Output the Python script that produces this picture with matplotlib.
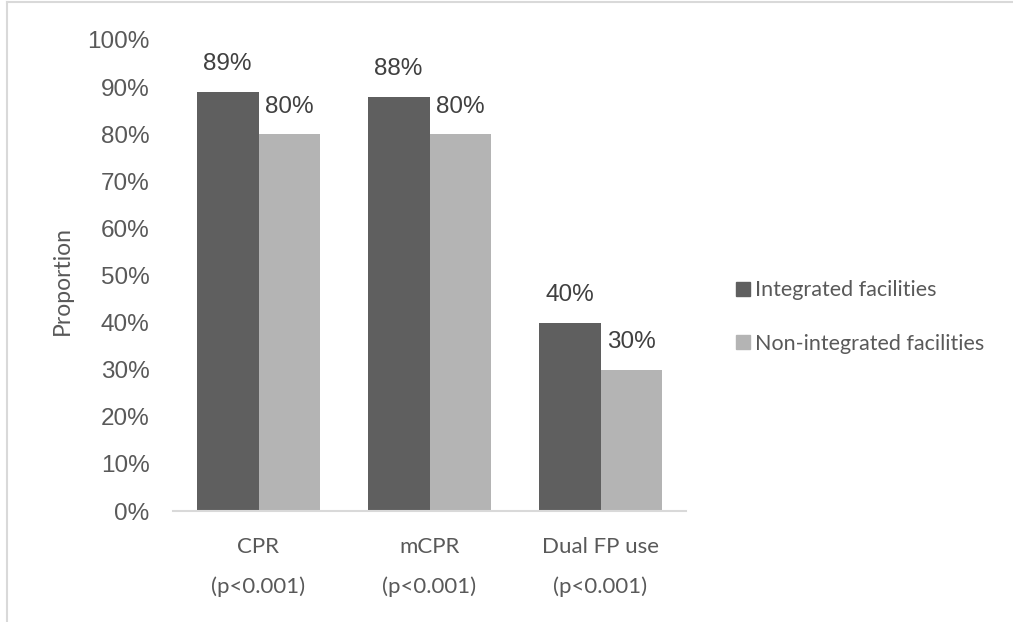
import matplotlib
matplotlib.use("Agg")
import matplotlib.pyplot as plt
from matplotlib.lines import Line2D
from matplotlib.patches import Patch
import numpy as np

categories = ["CPR\n(p<0.001)", "mCPR\n(p<0.001)", "Dual FP use\n(p<0.001)"]
series_names = ["Integrated facilities", "Non-integrated facilities"]
integrated = [0.89, 0.88, 0.40]
non_integrated = [0.80, 0.80, 0.30]
y_ticks = [0.0, 0.1, 0.2, 0.3, 0.4, 0.5, 0.6, 0.7, 0.8, 0.9, 1.0]

dark = "#5f5f5f"
light = "#b4b4b4"
text_col = "#595959"
line_col = "#d9d9d9"
num_font = "Liberation Sans"
lbl_font = "Lato"

W, H = 1013, 622
fig = plt.figure(figsize=(W / 100, H / 100), dpi=100)
ax = fig.add_axes([173 / W, 111 / H, 513 / W, 471 / H])

x = np.arange(len(categories))
bw = 0.3625
b1 = ax.bar(x - bw / 2, integrated, bw, color=dark, label=series_names[0])
b2 = ax.bar(x + bw / 2, non_integrated, bw, color=light, label=series_names[1])

for bars, vals in ((b1, integrated), (b2, non_integrated)):
    for r, v in zip(bars, vals):
        ax.annotate(f"{v:.0%}", (r.get_x() + r.get_width() / 2, v),
                    xytext=(0, 12), textcoords="offset points",
                    ha="center", va="bottom", fontsize=17.5,
                    family=num_font, color="#404040")

ax.set_xlim(-0.5, 2.5)
ax.set_ylim(0, 1)
ax.set_yticks(y_ticks)
ax.set_yticklabels([f"{t:.0%}" for t in y_ticks], family=num_font,
                   fontsize=17.5, color=text_col)
ax.set_xticks(x)
ax.set_xticklabels(categories, family=lbl_font, fontsize=16,
                   color=text_col, linespacing=2.15)
ax.tick_params(axis="both", length=0)
ax.tick_params(axis="y", pad=17)
ax.tick_params(axis="x", pad=19)

for s in ("top", "right", "left"):
    ax.spines[s].set_visible(False)
ax.spines["bottom"].set_color(line_col)
ax.spines["bottom"].set_linewidth(1.5)

ax.set_ylabel("Proportion", family=lbl_font, fontsize=16.5,
              color=text_col)
ax.yaxis.set_label_coords(-0.195, 0.49)

handles = [Patch(color=dark), Patch(color=light)]
fig.legend(handles, series_names, loc="center left",
           bbox_to_anchor=(717 / W, 1 - 317 / H), frameon=False,
           prop={"family": lbl_font, "size": 15.5}, labelcolor=text_col,
           handlelength=0.65, handleheight=0.65, handletextpad=0.2,
           labelspacing=1.55)

# outer frame strokes along the top and left edges
fig.add_artist(Line2D([7 / W, 1], [1 - 2 / H, 1 - 2 / H],
                      transform=fig.transFigure, color=line_col, lw=1.5))
fig.add_artist(Line2D([7 / W, 7 / W], [0, 1 - 2 / H],
                      transform=fig.transFigure, color=line_col, lw=1.5))

fig.savefig("out.png", dpi=100, facecolor="white")
